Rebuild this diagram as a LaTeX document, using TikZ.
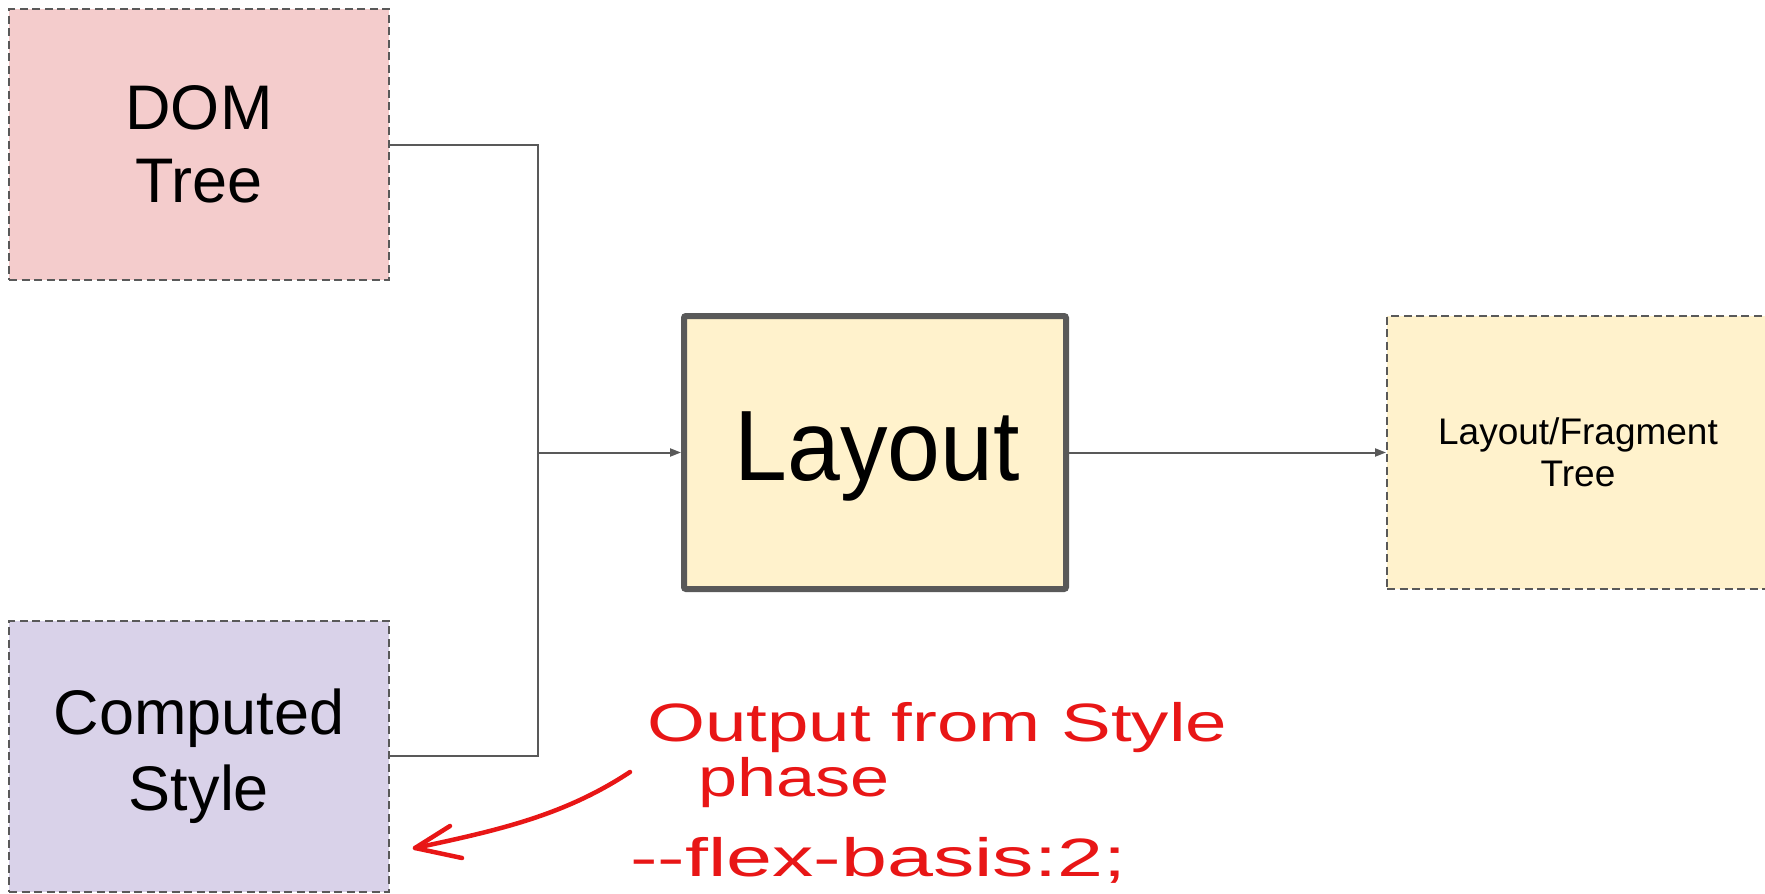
\documentclass[tikz,border=0pt]{standalone}
\usepackage{fontspec}
\setmainfont{Liberation Sans}
\usetikzlibrary{arrows.meta}
\definecolor{domfill}{HTML}{F4CCCC}
\definecolor{stylefill}{HTML}{D9D2E9}
\definecolor{layfill}{HTML}{FFF2CC}
\definecolor{edge}{HTML}{595959}
\definecolor{pen}{RGB}{232,22,22}
\tikzset{
  inbox/.style={draw=edge, line width=2pt, dash pattern=on 8pt off 4.5pt,
    minimum width=380pt, minimum height=271pt, inner sep=0pt, align=center},
  procbox/.style={draw=edge, line width=6pt, rounded corners=2pt,
    fill=layfill, minimum width=382pt, minimum height=273pt, inner sep=0pt},
  link/.style={draw=edge, line width=2pt},
  flow/.style={link, -{Triangle[length=11pt,width=8pt]}},
  note/.style={text=pen, anchor=base west, inner sep=0pt,
    font=\fontsize{54}{54}\selectfont},
  scribble/.style={draw=pen, line width=4.5pt, line cap=round, line join=round}
}
\begin{document}
\begin{tikzpicture}[x=1pt,y=-1pt]
\useasboundingbox (0,0) rectangle (1765,894);

% input boxes
\node[inbox, fill=domfill, font=\fontsize{63}{73}\selectfont] (dom) at (199,144.5) {DOM\\Tree};
\node[inbox, fill=stylefill, font=\fontsize{63}{76}\selectfont] (cs) at (199,756) {Computed\\Style};

% layout step and its output
\node[procbox] (layout) at (875,452.5) {};
\node[xscale=0.95, font=\fontsize{100}{100}\selectfont, inner sep=0pt] (laytxt) at (877,456) {Layout};
\node[inbox, fill=layfill, minimum width=382pt, minimum height=273pt,
      font=\fontsize{37}{42}\selectfont] (frag) at (1578,452.5) {Layout/Fragment\\Tree};

% merging connectors
\coordinate (join) at (538,452.5);
\draw[link] (dom.east) -| (join);
\draw[link] (cs.east) -| (join);
\draw[flow] (join) -- (layout.west);
\draw[flow] (layout.east) -- (frag.west);

% handwritten remark
\node[note, xscale=1.38] (n1) at (647,741) {Output from Style};
\node[note, xscale=1.30] (n2) at (698,796) {phase};
\node[note, xscale=1.53] (n3) at (630,876) {-{}-flex-basis:2;};
\coordinate (tail) at (630,772);
\coordinate (tip) at (415,848);
\draw[scribble] (tail) .. controls (565,815) and (500,830) .. (tip);
\draw[scribble] (450,826) -- (tip) -- (462,858);
\end{tikzpicture}
\end{document}
